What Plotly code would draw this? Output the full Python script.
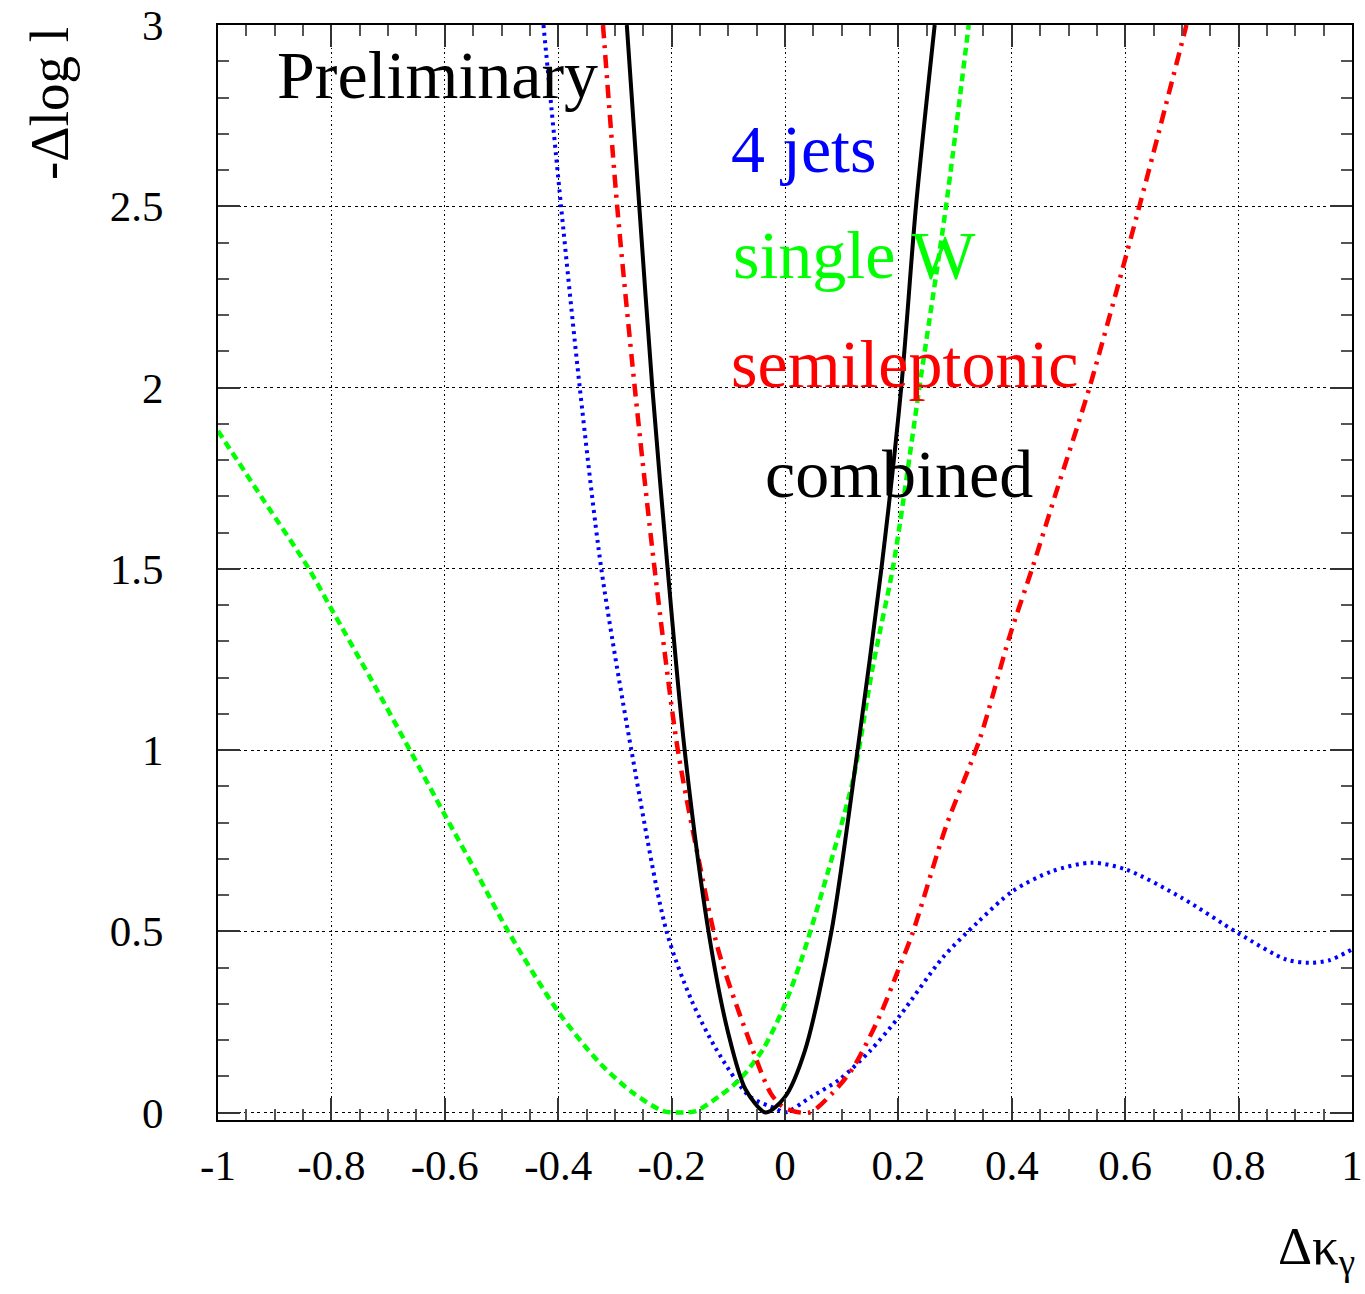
import numpy as np
import plotly.graph_objects as go

# ---- data ----
jets4_x = [-0.426, -0.395, -0.362, -0.324, -0.271, -0.209, -0.165, -0.121, -0.063, -0.015, 0.0, 0.048, 0.096, 0.15, 0.202, 0.278, 0.34, 0.401, 0.47, 0.54, 0.602, 0.70, 0.799, 0.884, 0.925, 0.96, 1.0]
jets4_y = [3.0, 2.5, 2.0, 1.5, 1.0, 0.5, 0.31, 0.174, 0.045, 0.01, 0.0, 0.045, 0.091, 0.17, 0.266, 0.427, 0.525, 0.61, 0.665, 0.689, 0.670, 0.592, 0.495, 0.422, 0.413, 0.42, 0.45]

singleW_x = [-1.0, -0.92, -0.841, -0.8, -0.73, -0.662, -0.6, -0.54, -0.488, -0.4, -0.327, -0.268, -0.215, -0.189, -0.157, -0.116, -0.080, -0.039, -0.004, 0.029, 0.075, 0.120, 0.155, 0.190, 0.208, 0.237, 0.284, 0.324]
singleW_y = [1.88, 1.69, 1.503, 1.389, 1.195, 1.001, 0.821, 0.65, 0.499, 0.278, 0.137, 0.054, 0.004, 0.0, 0.004, 0.045, 0.091, 0.174, 0.284, 0.422, 0.66, 0.918, 1.231, 1.500, 1.681, 2.0, 2.5, 3.0]

semilep_x = [-0.321, -0.296, -0.265, -0.230, -0.189, -0.15, -0.118, -0.068, -0.024, 0.0, 0.043, 0.084, 0.12, 0.167, 0.199, 0.225, 0.284, 0.343, 0.396, 0.437, 0.478, 0.537, 0.625, 0.708]
semilep_y = [3.0, 2.5, 2.0, 1.5, 1.0, 0.68, 0.45, 0.22, 0.05, 0.012, 0.0, 0.054, 0.123, 0.266, 0.39, 0.495, 0.789, 1.028, 1.313, 1.506, 1.71, 2.0, 2.5, 3.0]

comb_x = [-0.279, -0.257, -0.234, -0.207, -0.177, -0.135, -0.100, -0.070, -0.034, 0.000, 0.035, 0.082, 0.128, 0.170, 0.205, 0.231, 0.264]
comb_y = [3.0, 2.5, 2.0, 1.5, 1.0, 0.5, 0.218, 0.065, 0.0, 0.043, 0.17, 0.5, 1.0, 1.5, 2.0, 2.5, 3.0]

x_tickvals = [-1, -0.8, -0.6, -0.4, -0.2, 0, 0.2, 0.4, 0.6, 0.8, 1]
x_ticktext = ["-1", "-0.8", "-0.6", "-0.4", "-0.2", "0", "0.2", "0.4", "0.6", "0.8", "1"]
y_tickvals = [0, 0.5, 1, 1.5, 2, 2.5, 3]
y_ticktext = ["0", "0.5", "1", "1.5", "2", "2.5", "3"]

FONT = "Liberation Serif, Times New Roman, serif"

fig = go.Figure()
fig.add_trace(go.Scatter(x=jets4_x, y=jets4_y, mode="lines", line=dict(color="#0000ff", width=4, dash="3px,4.5px", shape="spline", smoothing=0.8), showlegend=False))
fig.add_trace(go.Scatter(x=singleW_x, y=singleW_y, mode="lines", line=dict(color="#00ff00", width=4.5, dash="8px,5px", shape="spline", smoothing=0.8), showlegend=False))
fig.add_trace(go.Scatter(x=semilep_x, y=semilep_y, mode="lines", line=dict(color="#ff0000", width=4.5, dash="13px,7px,3px,7px", shape="spline", smoothing=0.8), showlegend=False))
fig.add_trace(go.Scatter(x=comb_x, y=comb_y, mode="lines", line=dict(color="#000000", width=4, shape="spline", smoothing=0.8), showlegend=False))

x_minor = [round(v, 3) for v in np.arange(-1, 1.0001, 0.05)]
y_minor = [round(v, 3) for v in np.arange(0, 3.0001, 0.1)]

fig.update_xaxes(
    range=[-1, 1], tickmode="array", tickvals=x_tickvals, ticktext=x_ticktext,
    ticks="inside", ticklen=22, tickwidth=1.5, tickcolor="#333333",
    minor=dict(tickmode="array", tickvals=x_minor, ticks="inside", ticklen=11, tickwidth=1.5, tickcolor="#555555", showgrid=False),
    showgrid=True, gridcolor="#000000", gridwidth=1, griddash="1.5px,3px",
    showline=True, linecolor="#000000", linewidth=2, mirror="ticks",
    zeroline=False, tickfont=dict(family=FONT, size=43, color="#000000"),
    ticklabelstandoff=6, automargin=False,
)
fig.update_yaxes(
    range=[-0.0207, 3], tickmode="array", tickvals=y_tickvals, ticktext=y_ticktext,
    ticks="inside", ticklen=22, tickwidth=1.5, tickcolor="#333333",
    minor=dict(tickmode="array", tickvals=y_minor, ticks="inside", ticklen=11, tickwidth=1.5, tickcolor="#555555", showgrid=False),
    showgrid=True, gridcolor="#000000", gridwidth=1, griddash="3px,3.5px",
    showline=True, linecolor="#000000", linewidth=2, mirror="ticks",
    zeroline=False, tickfont=dict(family=FONT, size=43, color="#000000"),
    ticklabelstandoff=44, automargin=False,
)

ann = []
ann.append(dict(text="Preliminary", x=-0.8986, y=2.862, xref="x", yref="y", xanchor="left", yanchor="middle", showarrow=False, font=dict(family=FONT, size=68, color="#000000")))
ann.append(dict(text="4 jets", x=-0.098, y=2.658, xref="x", yref="y", xanchor="left", yanchor="middle", showarrow=False, font=dict(family=FONT, size=68, color="#0000ff")))
ann.append(dict(text="single W", x=-0.0944, y=2.366, xref="x", yref="y", xanchor="left", yanchor="middle", showarrow=False, font=dict(family=FONT, size=68, color="#00ff00")))
ann.append(dict(text="semileptonic", x=-0.098, y=2.065, xref="x", yref="y", xanchor="left", yanchor="middle", showarrow=False, font=dict(family=FONT, size=68, color="#ff0000")))
ann.append(dict(text="combined", x=-0.038, y=1.762, xref="x", yref="y", xanchor="left", yanchor="middle", showarrow=False, font=dict(family=FONT, size=68, color="#000000")))
ann.append(dict(text="-Δlog l", x=-0.1486, y=1.0, xref="paper", yref="paper", xanchor="center", yanchor="top", textangle=-90, showarrow=False, font=dict(family=FONT, size=55, color="#000000")))
ann.append(dict(text="Δκ<sub>γ</sub>", x=1.004, y=-0.087, xref="paper", yref="paper", xanchor="right", yanchor="top", showarrow=False, font=dict(family=FONT, size=53, color="#000000")))

fig.update_layout(
    width=1365, height=1294,
    margin=dict(l=218, r=13, t=25, b=174, autoexpand=False),
    paper_bgcolor="#ffffff", plot_bgcolor="#ffffff",
    annotations=ann, showlegend=False,
)

fig.write_html("out.html")
